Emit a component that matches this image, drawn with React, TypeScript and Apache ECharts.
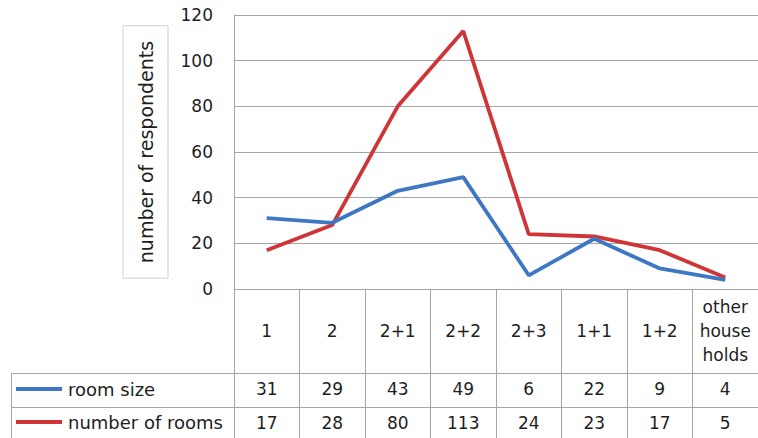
import React, { useEffect, useRef } from "react";
import * as echarts from "echarts";

const categories = ["1", "2", "2+1", "2+2", "2+3", "1+1", "1+2", "other\nhouse\nholds"];
const roomSize = [31, 29, 43, 49, 6, 22, 9, 4];
const numberOfRooms = [17, 28, 80, 113, 24, 23, 17, 5];
const seriesNames = ["room size", "number of rooms"];
const yMin = 0;
const yMax = 120;
const yInterval = 20;

const FONT = "DejaVu Sans";
const TEXT = "#1e1e1e";
const GRID = "#a6a6a6";
const BLUE = "#3e78c4";
const RED = "#cf3537";

export default function App() {
  const ref = useRef<HTMLDivElement>(null);
  useEffect(() => {
    if (!ref.current) return;
    const chart = echarts.init(ref.current, null, { renderer: "svg" });
    const dataAxis = (values: number[], offset: number) => ({
      type: "category",
      gridIndex: 0,
      position: "bottom",
      offset,
      data: values.map(String),
      axisLine: { show: false },
      axisTick: { show: false },
      axisLabel: {
        interval: 0,
        margin: 7,
        fontSize: 17,
        fontFamily: FONT,
        color: TEXT,
      },
    });
    const legendItem = (name: string, top: number) => ({
      data: [name],
      orient: "horizontal",
      left: 16,
      top,
      icon: "rect",
      itemWidth: 46,
      itemHeight: 4,
      itemGap: 0,
      padding: 0,
      textStyle: { fontSize: 18, fontFamily: FONT, color: TEXT, padding: [0, 0, 0, 1] },
    });
    chart.setOption({
      animation: false,
      backgroundColor: "#ffffff",
      grid: { left: 234, top: 15, width: 530, height: 274, containLabel: false },
      legend: [legendItem(seriesNames[0], 380), legendItem(seriesNames[1], 413)],
      xAxis: [
        {
          type: "category",
          gridIndex: 0,
          position: "bottom",
          data: categories,
          boundaryGap: true,
          axisLine: { show: true, lineStyle: { color: GRID, width: 1 } },
          axisTick: { show: true, interval: 0, length: 150, lineStyle: { color: GRID, width: 1 } },
          axisLabel: {
            interval: 0,
            margin: 42,
            verticalAlign: "middle",
            lineHeight: 24,
            fontSize: 17,
            fontFamily: FONT,
            color: TEXT,
          },
        },
        dataAxis(roomSize, 84),
        dataAxis(numberOfRooms, 118),
      ],
      yAxis: {
        type: "value",
        min: yMin,
        max: yMax,
        interval: yInterval,
        name: "number of respondents",
        nameLocation: "middle",
        nameGap: 66,
        nameTextStyle: {
          fontSize: 19,
          fontFamily: FONT,
          color: TEXT,
          borderColor: "#cfcfcf",
          borderWidth: 1,
          padding: [13, 15, 13, 15],
        },
        axisLine: { show: true, lineStyle: { color: GRID, width: 1 } },
        axisTick: { show: false },
        splitLine: { show: true, lineStyle: { color: GRID, width: 1 } },
        axisLabel: { fontSize: 17, fontFamily: FONT, color: TEXT, margin: 21 },
      },
      series: [
        {
          name: seriesNames[0],
          type: "line",
          data: roomSize,
          xAxisIndex: 0,
          showSymbol: false,
          symbol: "none",
          lineStyle: { color: BLUE, width: 3.8 },
          itemStyle: { color: BLUE },
          z: 3,
        },
        {
          name: seriesNames[1],
          type: "line",
          data: numberOfRooms,
          xAxisIndex: 0,
          showSymbol: false,
          symbol: "none",
          lineStyle: { color: RED, width: 3.8 },
          itemStyle: { color: RED },
          z: 2,
        },
      ],
      graphic: [
        { type: "line", shape: { x1: 11, y1: 373.5, x2: 758, y2: 373.5 }, style: { stroke: GRID, lineWidth: 1 } },
        { type: "line", shape: { x1: 11, y1: 407.5, x2: 758, y2: 407.5 }, style: { stroke: GRID, lineWidth: 1 } },
        { type: "line", shape: { x1: 11.5, y1: 373, x2: 11.5, y2: 438 }, style: { stroke: GRID, lineWidth: 1 } },
      ],
    });
    return () => chart.dispose();
  }, []);
  return (
    <div
      ref={ref}
      style={{ position: "fixed", left: 0, top: 0, width: 758, height: 438, background: "#fff" }}
    />
  );
}
